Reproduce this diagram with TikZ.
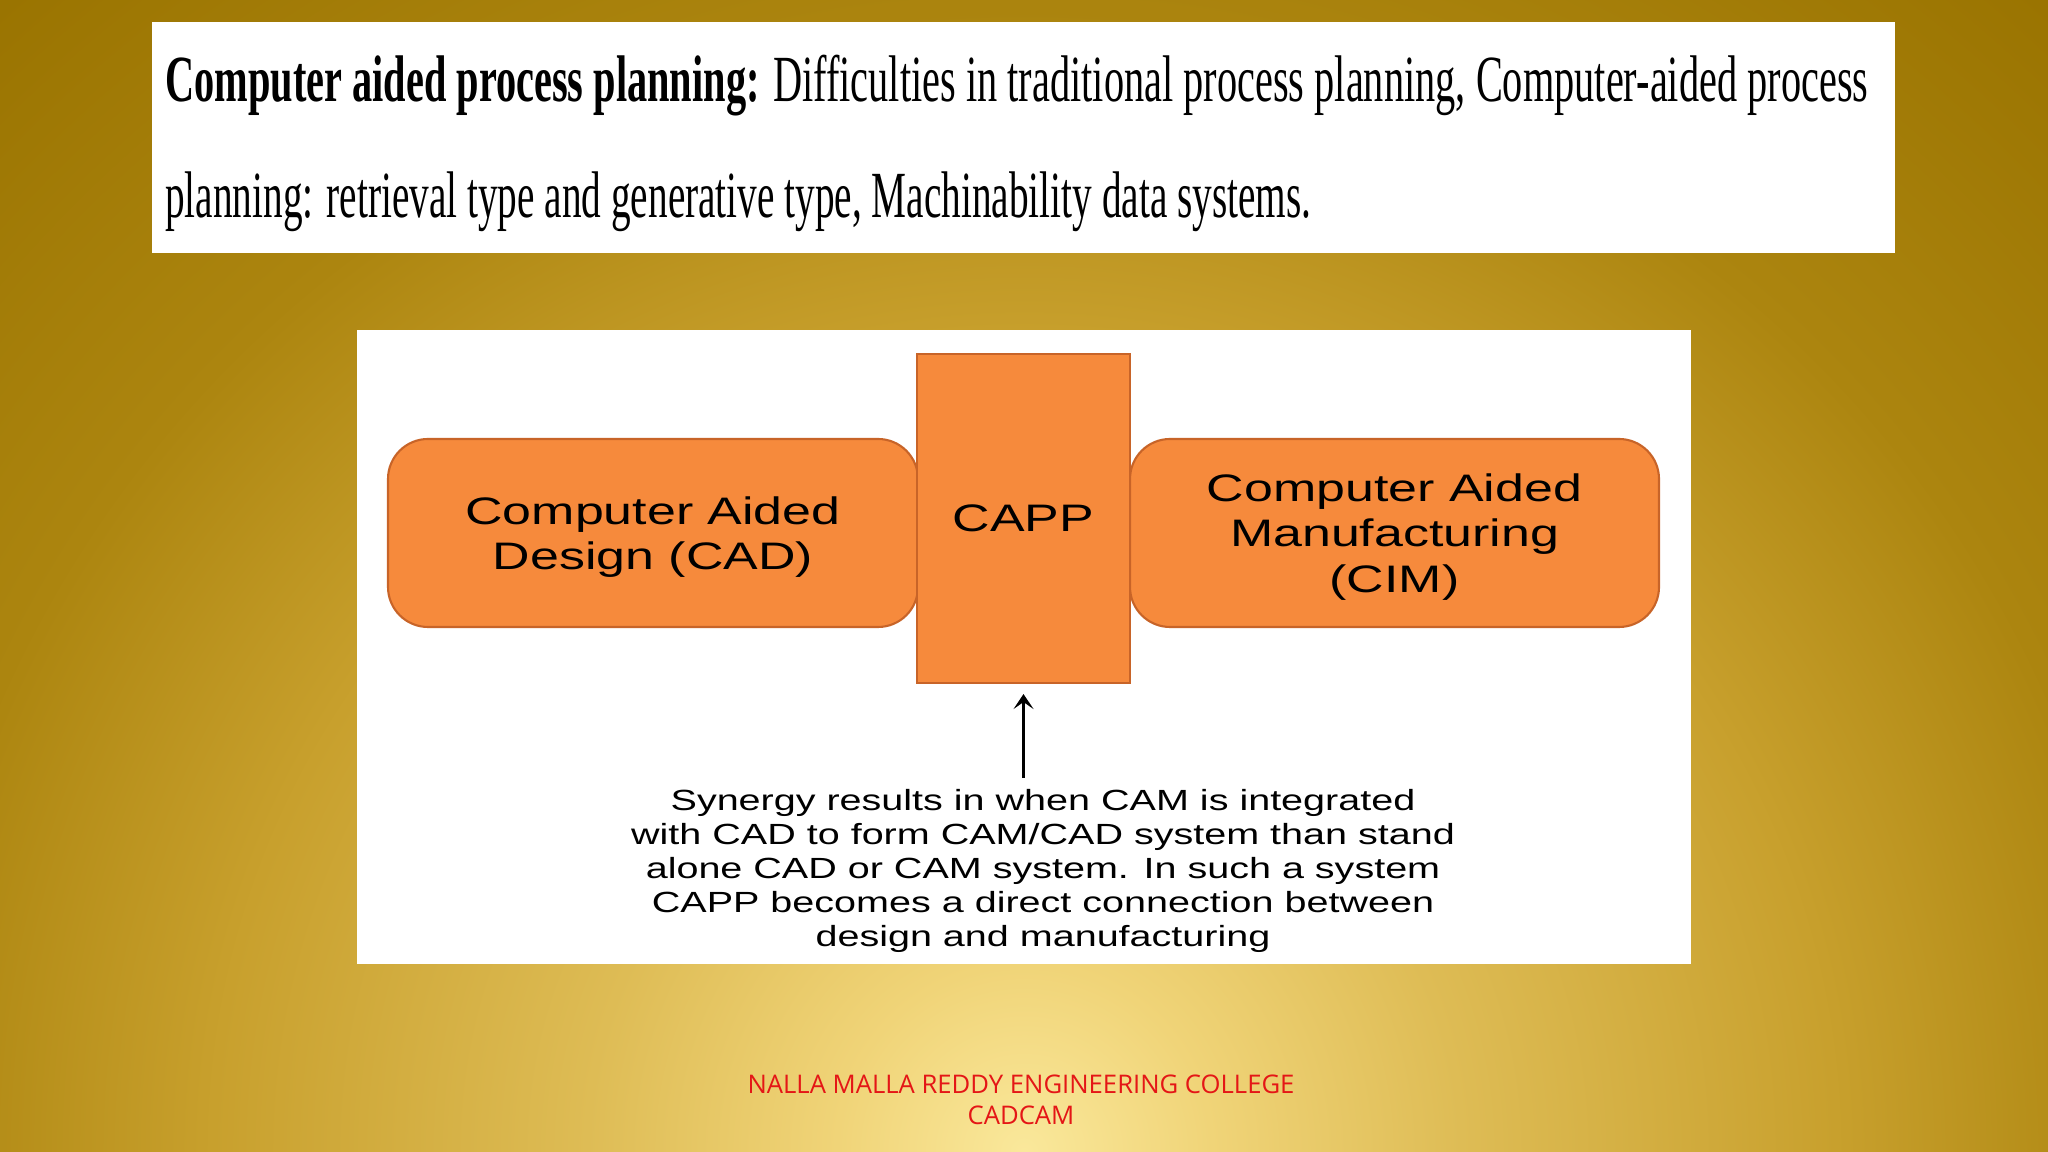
\documentclass[tikz,border=0pt]{standalone}
\usepackage{fontspec}
\usepackage{graphicx}
\usetikzlibrary{arrows.meta}
\usetikzlibrary{calc}
\setmainfont{Liberation Serif}
\newfontfamily\diagfont[FakeStretch=1.355]{Liberation Sans}
\newfontfamily\footfont{Open Sans}
\definecolor{goldA}{RGB}{250,232,155}
\definecolor{goldB}{RGB}{240,212,120}
\definecolor{goldC}{RGB}{222,188,85}
\definecolor{goldD}{RGB}{200,160,45}
\definecolor{goldE}{RGB}{172,133,15}
\definecolor{goldF}{RGB}{153,115,0}
\definecolor{cappfill}{RGB}{246,138,60}
\definecolor{cappline}{RGB}{200,100,40}
\definecolor{footred}{RGB}{228,22,22}
\pgfdeclareradialshading{goldbg}{\pgfpoint{0bp}{0bp}}{color(0bp)=(goldA); color(3bp)=(goldB); color(7bp)=(goldC); color(13bp)=(goldD); color(18bp)=(goldE); color(25bp)=(goldF); color(50bp)=(goldF)}
\newcommand{\drawarrow}{\draw[-{Stealth[length=1.5mm,width=2mm,inset=0.7mm]}, line width=0.95pt, shorten >=1mm]}

\begin{document}
\begin{tikzpicture}[x=0.1mm, y=-0.1mm,
    block/.style={draw=cappline, fill=cappfill, line width=0.6pt, rounded corners=4mm,
        minimum width=53mm, minimum height=18.8mm, align=center, text depth=0pt,
        font=\diagfont\fontsize{10.9pt}{13pt}\selectfont},
    titleline/.style={anchor=base west, inner sep=0pt}]
    \useasboundingbox (0,0) rectangle (2048,1152);

    % Draw background
    \begin{scope}
        \clip (0,0) rectangle (2048,1152);
        \shade[shading=goldbg] (1024,1152) circle (156mm);
    \end{scope}

    % Draw panels
    \fill[white] (151.5,22.2) rectangle (1895,253.4);
    \fill[white] (356.6,330.4) rectangle (1691.4,963.9);

    % Title lines
    \node[titleline] (title1) at (164.6,102) {\resizebox{170.3mm}{\height}{\fontsize{18.75pt}{22pt}\selectfont\textbf{Computer aided process planning:} Difficulties in traditional process planning, Computer-aided process}};
    \node[titleline] (title2) at (164.6,218) {\resizebox{114.6mm}{\height}{\fontsize{18.75pt}{22pt}\selectfont planning: retrieval type and generative type, Machinability data systems.}};

    % Draw blocks
    \node[block] (cad) at (653,533) {Computer Aided\\Design (CAD)};
    \node[block, minimum width=52.9mm] (cim) at (1394.5,533) {Computer Aided\\Manufacturing\\(CIM)};
    \node[block, sharp corners, minimum width=21.3mm, minimum height=32.9mm] (capp) at (1023.5,518.5) {CAPP};

    % Note and arrow
    \node[align=center, inner sep=1.1mm, font=\diagfont\fontsize{8.3pt}{9.67pt}\selectfont] (note) at (1043,871)
        {Synergy results in when CAM is integrated\\with CAD to form CAM/CAD system than stand\\alone CAD or CAM system. In such a system\\CAPP becomes a direct connection between\\design and manufacturing};
    \drawarrow (capp.south |- note.north) -- (capp.south);

    % Footer
    \node[align=center, text=footred, font=\footfont\fontsize{7.3pt}{8.9pt}\selectfont] (footer) at (1021,1100)
        {NALLA MALLA REDDY ENGINEERING COLLEGE\\CADCAM};
\end{tikzpicture}
\end{document}
